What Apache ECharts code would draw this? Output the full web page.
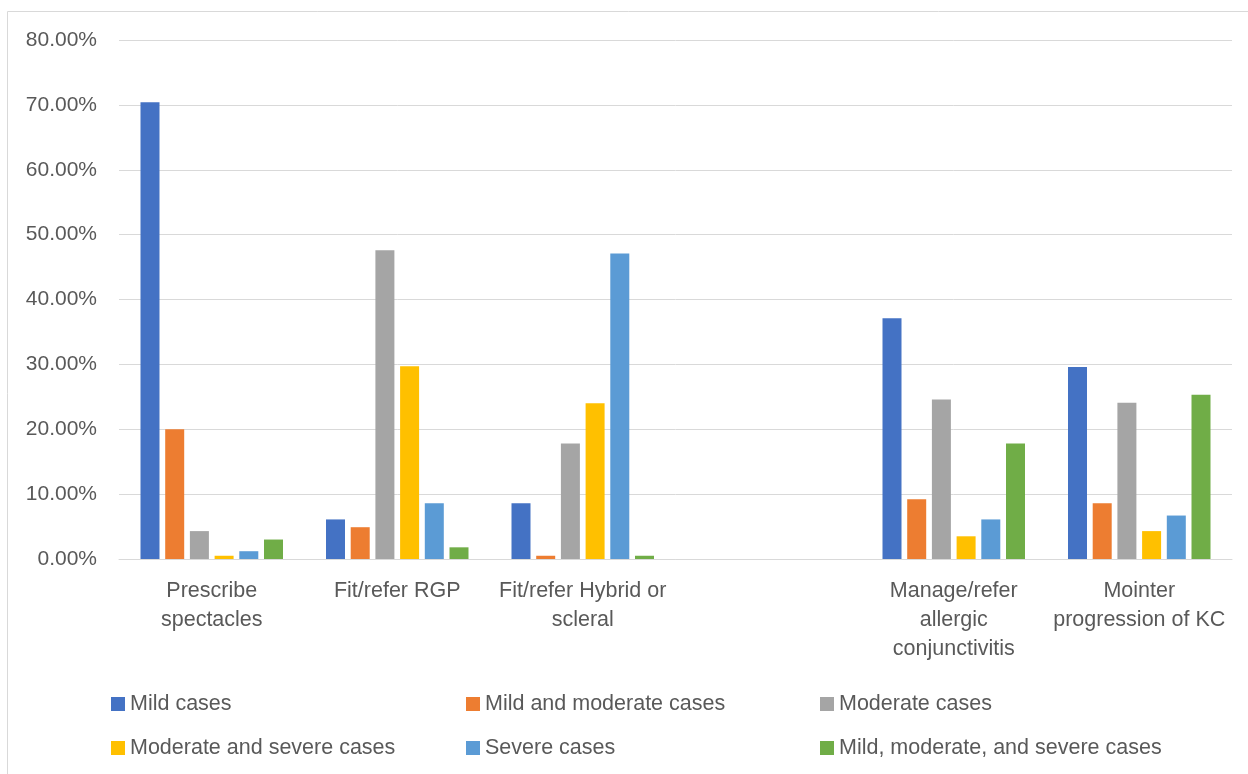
<!DOCTYPE html>
<html>
<head>
<meta charset="utf-8">
<script src="https://cdn.jsdelivr.net/npm/echarts@6/dist/echarts.min.js"></script>
<style>
  html, body { margin: 0; padding: 0; background: #fff; }
  #chart { width: 1248px; height: 774px; }
</style>
</head>
<body>
<div id="chart"></div>
<script>
// categories (empty slot kept between Hybrid and Manage, as in the original)
var categories = [
    'Prescribe\nspectacles',
    'Fit/refer RGP',
    'Fit/refer Hybrid or\nscleral',
    '',
    'Manage/refer\nallergic\nconjunctivitis',
    'Mointer\nprogression of KC'
];
var seriesNames = [
    'Mild cases',
    'Mild and moderate cases',
    'Moderate cases',
    'Moderate and severe cases',
    'Severe cases',
    'Mild, moderate, and severe cases'
];
// percent values per series, one per category
var mild = [70.4, 6.1, 8.6, null, 37.1, 29.6];
var mildModerate = [20.0, 4.9, 0.5, null, 9.2, 8.6];
var moderate = [4.3, 47.6, 17.8, null, 24.6, 24.1];
var moderateSevere = [0.5, 29.7, 24.0, null, 3.5, 4.3];
var severe = [1.2, 8.6, 47.1, null, 6.1, 6.7];
var allCases = [3.0, 1.8, 0.5, null, 17.8, 25.3];
var yTicks = [0, 10, 20, 30, 40, 50, 60, 70, 80];

var colors = ['#4472c4', '#ed7d31', '#a5a5a5', '#ffc000', '#5b9bd5', '#70ad47'];
var values = [mild, mildModerate, moderate, moderateSevere, severe, allCases];

var chart = echarts.init(document.getElementById('chart'));
var font = 'Liberation Sans, Arial, sans-serif';

function legendCol(left, names) {
    return {
        orient: 'vertical',
        left: left,
        top: 693,
        padding: 0,
        itemWidth: 14,
        itemHeight: 14,
        itemGap: 22,
        icon: 'rect',
        selectedMode: false,
        data: names,
        textStyle: { color: '#595959', fontSize: 21.5, lineHeight: 22, fontFamily: font }
    };
}

var series = [];
for (var i = 0; i < seriesNames.length; i++) {
    series.push({
        name: seriesNames[i],
        type: 'bar',
        data: values[i],
        barWidth: 19,
        barGap: '30%',
        itemStyle: { color: colors[i] }
    });
}

var option = {
    animation: false,
    color: colors,
    graphic: [{
        type: 'rect',
        shape: { x: 7.5, y: 11.5, width: 1250, height: 780 },
        style: { fill: null, stroke: '#d9d9d9', lineWidth: 1 },
        silent: true
    }],
    grid: { left: 119, right: 16, top: 40, bottom: 215, containLabel: false },
    legend: [
        legendCol(111, [seriesNames[0], seriesNames[3]]),
        legendCol(466, [seriesNames[1], seriesNames[4]]),
        legendCol(820, [seriesNames[2], seriesNames[5]])
    ],
    xAxis: {
        type: 'category',
        data: categories,
        axisTick: { show: false },
        axisLine: { lineStyle: { color: '#d9d9d9', width: 1 } },
        axisLabel: {
            interval: 0,
            color: '#595959',
            fontSize: 21.5,
            fontFamily: font,
            lineHeight: 29,
            margin: 18
        }
    },
    yAxis: {
        type: 'value',
        min: yTicks[0],
        max: yTicks[yTicks.length - 1],
        interval: 10,
        axisLine: { show: false },
        axisTick: { show: false },
        splitLine: { lineStyle: { color: '#d9d9d9', width: 1 } },
        axisLabel: {
            color: '#595959',
            fontSize: 21,
            fontFamily: font,
            margin: 22,
            formatter: function (v) { return v.toFixed(2) + '%'; }
        }
    },
    series: series
};
chart.setOption(option);
window.addEventListener('resize', chart.resize);
</script>
</body>
</html>
